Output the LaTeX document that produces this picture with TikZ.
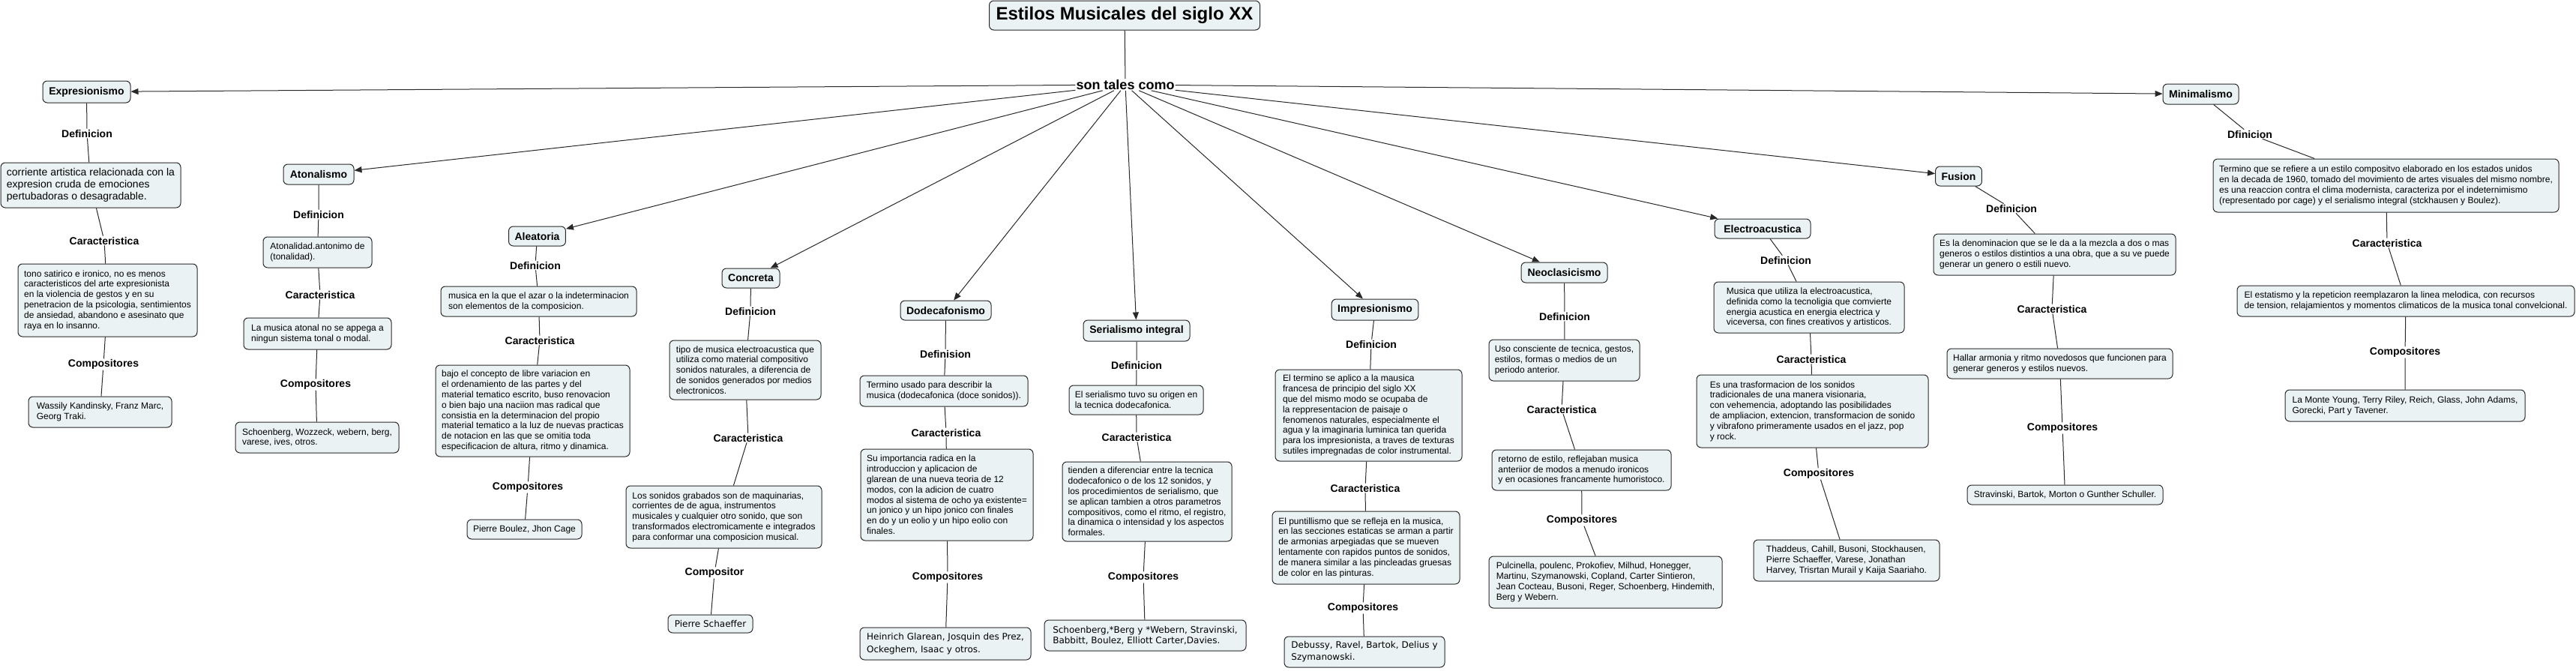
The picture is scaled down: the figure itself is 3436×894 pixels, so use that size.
\documentclass[tikz,border=0pt]{standalone}
\usepackage{fontspec}
\setmainfont{Liberation Sans}
\newfontfamily\verd{DejaVu Sans}
\usetikzlibrary{arrows.meta}
\definecolor{boxfill}{RGB}{235,242,244}
\definecolor{linec}{RGB}{40,40,40}
\tikzset{
  concept/.style={draw=linec, line width=1pt, fill=boxfill, rounded corners=6pt, font=\bfseries\fontsize{14}{16}\selectfont, minimum height=27pt, inner xsep=8pt, inner ysep=0pt, align=center},
  info/.style={draw=linec, line width=1pt, fill=boxfill, rounded corners=6pt, font=\fontsize{12}{13.8}\selectfont, align=left, inner sep=0pt},
  verd/.style={info, font=\verd\fontsize{12}{15}\selectfont},
  lab/.style={font=\bfseries\fontsize{14}{16}\selectfont, inner sep=1pt},
  link/.style={draw=linec, line width=1pt},
  arr/.style={link, -{Triangle[length=10pt,width=8pt]}},
}
\begin{document}
\begin{tikzpicture}[x=1pt,y=-1pt]
\useasboundingbox[fill=white] (0,0) rectangle (3436,894);

% title
\node[concept, font=\bfseries\fontsize{24}{26}\selectfont, minimum width=361pt, minimum height=39pt] (title) at (1500,20.5) {Estilos Musicales del siglo XX};
\node[font=\bfseries\fontsize{18}{20}\selectfont, inner sep=1pt] (son) at (1501,113) {son tales como};

% concepts
\node[concept, minimum width=117pt, minimum height=29pt] (expr) at (115.5,122.5) {Expresionismo};
\node[concept, minimum width=94pt] (aton) at (425,232.5) {Atonalismo};
\node[concept, minimum width=75pt, minimum height=26pt] (alea) at (716.5,315) {Aleatoria};
\node[concept, minimum width=77pt, minimum height=26pt] (conc) at (1001.5,371) {Concreta};
\node[concept, minimum width=121pt, minimum height=26pt] (dode) at (1261.5,414) {Dodecafonismo};
\node[concept, minimum width=142pt, minimum height=28pt] (seri) at (1516,441) {Serialismo integral};
\node[concept, minimum width=114pt, minimum height=28pt] (impr) at (1834,413) {Impresionismo};
\node[concept, minimum width=115pt] (neoc) at (2086.5,363.5) {Neoclasicismo};
\node[concept, minimum width=128pt, minimum height=26pt] (elec) at (2351,305) {Electroacustica};
\node[concept, minimum width=61pt, minimum height=26pt] (fusi) at (2612.5,235) {Fusion};
\node[concept, minimum width=101pt] (mini) at (2935.5,125.5) {Minimalismo};

% Expresionismo
\node[info, font=\fontsize{14}{16.2}\selectfont, minimum width=240pt, minimum height=60pt] (exprdef) at (121,247) {corriente artistica relacionada con la\\expresion cruda de emociones\\pertubadoras o desagradable.};
\node[info, minimum width=239pt, minimum height=97pt] (exprcar) at (143.5,400.5) {tono satirico e ironico, no es menos\\caracteristicos del arte expresionista\\en la violencia de gestos y en su\\penetracion de la psicologia, sentimientos\\de ansiedad, abandono e asesinato que\\raya en lo insanno.};
\node[info, minimum width=191pt, minimum height=41pt] (exprcom) at (133.5,549.5) {Wassily Kandinsky, Franz Marc,\\Georg Traki.};
\node[lab] (exprl1) at (116,178) {Definicion};
\node[lab] (exprl2) at (139,321) {Caracteristica};
\node[lab] (exprl3) at (138,486) {Compositores};

% Atonalismo
\node[info, minimum width=145pt, minimum height=41pt] (atondef) at (423.5,336.5) {Atonalidad.antonimo de\\(tonalidad).};
\node[info, minimum width=197pt, minimum height=42pt] (atoncar) at (423.5,445) {La musica atonal no se appega a\\ningun sistema tonal o modal.};
\node[info, minimum width=218pt, minimum height=41pt] (atoncom) at (423,583.5) {Schoenberg, Wozzeck, webern, berg,\\varese, ives, otros.};
\node[lab] (atonl1) at (425,286) {Definicion};
\node[lab] (atonl2) at (427,393) {Caracteristica};
\node[lab] (atonl3) at (421,513) {Compositores};

% Aleatoria
\node[info, minimum width=261pt, minimum height=40pt] (aleadef) at (718.5,402) {musica en la que el azar o la indeterminacion\\son elementos de la composicion.};
\node[info, minimum width=259pt, minimum height=122pt] (aleacar) at (710.5,548) {bajo el concepto de libre variacion en\\el ordenamiento de las partes y del\\material tematico escrito, buso renovacion\\o bien bajo una naciion mas radical que\\consistia en la determinacion del propio\\material tematico a la luz de nuevas practicas\\de notacion en las que se omitia toda\\especificacion de altura, ritmo y dinamica.};
\node[info, minimum width=153pt, minimum height=26pt] (aleacom) at (699.5,706) {Pierre Boulez, Jhon Cage};
\node[lab] (alel1) at (714,354) {Definicion};
\node[lab] (alel2) at (720,454) {Caracteristica};
\node[lab] (alel3) at (704,650) {Compositores};

% Concreta
\node[info, minimum width=202pt, minimum height=79pt] (concdef) at (994,493.5) {tipo de musica electroacustica que\\utiliza como material compositivo\\sonidos naturales, a diferencia de\\de sonidos generados por medios\\electronicos.};
\node[info, minimum width=261pt, minimum height=83pt] (conccar) at (965.5,689.5) {Los sonidos grabados son de maquinarias,\\corrientes de de agua, instrumentos\\musicales y cualquier otro sonido, que son\\transformados electromicamente e integrados\\para conformar una composicion musical.};
\node[verd, minimum width=113pt, minimum height=24pt] (conccom) at (947.5,832) {Pierre Schaeffer};
\node[lab] (concl1) at (1001,415) {Definicion};
\node[lab] (concl2) at (998,584) {Caracteristica};
\node[lab] (concl3) at (953,764) {Compositor};

% Dodecafonismo
\node[info, minimum width=224pt, minimum height=41pt] (dodedef) at (1259,521.5) {Termino usado para describir la\\musica (dodecafonica (doce sonidos)).};
\node[info, minimum width=230pt, minimum height=122pt] (dodecar) at (1263,660) {Su importancia radica en la\\introduccion y aplicacion de\\glarean de una nueva teoria de 12\\modos, con la adicion de cuatro\\modos al sistema de ocho ya existente=\\un jonico y un hipo jonico con finales\\en do y un eolio y un hipo eolio con\\finales.};
\node[verd, font=\verd\fontsize{12}{16.5}\selectfont, minimum width=228pt, minimum height=43pt] (dodecom) at (1261,858.5) {Heinrich Glarean, Josquin des Prez,\\Ockeghem, Isaac y otros.};
\node[lab] (dodel1) at (1261,472) {Definision};
\node[lab] (dodel2) at (1262,577) {Caracteristica};
\node[lab] (dodel3) at (1264,770) {Compositores};

% Serialismo integral
\node[info, minimum width=179pt, minimum height=39pt] (seridef) at (1515.5,533.5) {El serialismo tuvo su origen en\\la tecnica dodecafonica.};
\node[info, minimum width=226pt, minimum height=106pt] (sericar) at (1530,669) {tienden a diferenciar entre la tecnica\\dodecafonico o de los 12 sonidos, y\\los procedimientos de serialismo, que\\se aplican tambien a otros parametros\\compositivos, como el ritmo, el registro,\\la dinamica o intensidad y los aspectos\\formales.};
\node[verd, font=\verd\fontsize{12}{14.3}\selectfont, minimum width=269pt, minimum height=41pt] (sericom) at (1527.5,847.5) {Schoenberg,*Berg y *Webern, Stravinski,\\Babbitt, Boulez, Elliott Carter,Davies.};
\node[lab] (seril1) at (1516,487) {Definicion};
\node[lab] (seril2) at (1516,583) {Caracteristica};
\node[lab] (seril3) at (1525,770) {Compositores};

% Impresionismo
\node[info, minimum width=249pt, minimum height=122pt] (imprdef) at (1825.5,554) {El termino se aplico a la mausica\\francesa de principio del siglo XX\\que del mismo modo se ocupaba de\\la reppresentacion de paisaje o\\fenomenos naturales, especialmente el\\agua y la imaginaria luminica tan querida\\para los impresionista, a traves de texturas\\sutiles impregnadas de color instrumental.};
\node[info, minimum width=250pt, minimum height=97pt] (imprcar) at (1822,730.5) {El puntillismo que se refleja en la musica,\\en las secciones estaticas se arman a partir\\de armonias arpegiadas que se mueven\\lentamente con rapidos puntos de sonidos,\\de manera similar a las pincleadas gruesas\\de color en las pinturas.};
\node[verd, font=\verd\fontsize{12}{16}\selectfont, minimum width=214pt, minimum height=41pt] (imprcom) at (1820,869.5) {Debussy, Ravel, Bartok, Delius y\\Szymanowski.};
\node[lab] (imprl1) at (1829,459) {Definicion};
\node[lab] (imprl2) at (1821,651) {Caracteristica};
\node[lab] (imprl3) at (1818,811) {Compositores};

% Neoclasicismo
\node[info, minimum width=201pt, minimum height=55pt] (neocdef) at (2086.5,480.5) {Uso consciente de tecnica, gestos,\\estilos, formas o medios de un\\periodo anterior.};
\node[info, minimum width=239pt, minimum height=54pt] (neoccar) at (2109.5,627) {retorno de estilo, reflejaban musica\\anteriior de modos a menudo ironicos\\y en ocasiones francamente humoristoco.};
\node[info, minimum width=311pt, minimum height=69pt] (neoccom) at (2141.5,776.5) {Pulcinella, poulenc, Prokofiev, Milhud, Honegger,\\Martinu, Szymanowski, Copland, Carter Sintieron,\\Jean Cocteau, Busoni, Reger, Schoenberg, Hindemith,\\Berg y Webern.};
\node[lab] (neocl1) at (2087,422) {Definicion};
\node[lab] (neocl2) at (2083,546) {Caracteristica};
\node[lab] (neocl3) at (2110,694) {Compositores};

% Electroacustica
\node[info, minimum width=254pt, minimum height=68pt] (elecdef) at (2413,410) {Musica que utiliza la electroacustica,\\definida como la tecnoligia que comvierte\\energia acustica en energia electrica y\\viceversa, con fines creativos y artisticos.};
\node[info, minimum width=309pt, minimum height=97pt] (eleccar) at (2417.5,548.5) {Es una trasformacion de los sonidos\\tradicionales de una manera visionaria,\\con vehemencia, adoptando las posibilidades\\de ampliacion, extencion, transformacion de sonido\\y vibrafono primeramente usados en el jazz, pop\\y rock.};
\node[info, minimum width=248pt, minimum height=55pt] (eleccom) at (2463,747.5) {Thaddeus, Cahill, Busoni, Stockhausen,\\Pierre Schaeffer, Varese, Jonathan\\Harvey, Trisrtan Murail y Kaija Saariaho.};
\node[lab] (elecl1) at (2382,347) {Definicion};
\node[lab] (elecl2) at (2416,479) {Caracteristica};
\node[lab] (elecl3) at (2426,632) {Compositores};

% Fusion
\node[info, minimum width=323pt, minimum height=55pt] (fusidef) at (2740.5,339.5) {Es la denominacion que se le da a la mezcla a dos o mas\\generos o estilos distintios a una obra, que a su ve puede\\generar un genero o estili nuevo.};
\node[info, minimum width=301pt, minimum height=40pt] (fusicar) at (2747.5,485) {Hallar armonia y ritmo novedosos que funcionen para\\generar generos y estilos nuevos.};
\node[info, minimum width=261pt, minimum height=26pt] (fusicom) at (2754.5,660) {Stravinski, Bartok, Morton o Gunther Schuller.};
\node[lab] (fusil1) at (2683,278) {Definicion};
\node[lab] (fusil2) at (2737,412) {Caracteristica};
\node[lab] (fusil3) at (2751,571) {Compositores};

% Minimalismo
\node[info, minimum width=461pt, minimum height=71pt] (minidef) at (3182.5,247.5) {Termino que se refiere a un estilo compositvo elaborado en los estados unidos\\en la decada de 1960, tomado del movimiento de artes visuales del mismo nombre,\\es una reaccion contra el clima modernista, caracteriza por el indeternimismo\\(representado por cage) y el serialismo integral (stckhausen y Boulez).};
\node[info, minimum width=450pt, minimum height=41pt] (minicar) at (3209,401.5) {El estatismo y la repeticion reemplazaron la linea melodica, con recursos\\de tension, relajamientos y momentos climaticos de la musica tonal convelcional.};
\node[info, minimum width=320pt, minimum height=42pt] (minicom) at (3208,541) {La Monte Young, Terry Riley, Reich, Glass, John Adams,\\Gorecki, Part y Tavener.};
\node[lab] (minil1) at (3001,179) {Dfinicion};
\node[lab] (minil2) at (3184,324) {Caracteristica};
\node[lab] (minil3) at (3208,470) {Compositores};

% connectors
\draw[link] (title) -- (son);
\foreach \c in {expr,aton,alea,conc,dode,seri,impr,neoc,elec,fusi,mini}
  \draw[arr] (son) -- (\c);

\draw[link] (expr) -- (exprl1) -- (exprdef) -- (exprl2) -- (exprcar) -- (exprl3) -- (exprcom);
\draw[link] (aton) -- (atonl1) -- (atondef) -- (atonl2) -- (atoncar) -- (atonl3) -- (atoncom);
\draw[link] (alea) -- (alel1) -- (aleadef) -- (alel2) -- (aleacar) -- (alel3) -- (aleacom);
\draw[link] (conc) -- (concl1) -- (concdef) -- (concl2) -- (conccar) -- (concl3) -- (conccom);
\draw[link] (dode) -- (dodel1) -- (dodedef) -- (dodel2) -- (dodecar) -- (dodel3) -- (dodecom);
\draw[link] (seri) -- (seril1) -- (seridef) -- (seril2) -- (sericar) -- (seril3) -- (sericom);
\draw[link] (impr) -- (imprl1) -- (imprdef) -- (imprl2) -- (imprcar) -- (imprl3) -- (imprcom);
\draw[link] (neoc) -- (neocl1) -- (neocdef) -- (neocl2) -- (neoccar) -- (neocl3) -- (neoccom);
\draw[link] (elec) -- (elecl1) -- (elecdef) -- (elecl2) -- (eleccar) -- (elecl3) -- (eleccom);
\draw[link] (fusi) -- (fusil1) -- (fusidef) -- (fusil2) -- (fusicar) -- (fusil3) -- (fusicom);
\draw[link] (mini) -- (minil1) -- (minidef) -- (minil2) -- (minicar) -- (minil3) -- (minicom);
\end{tikzpicture}
\end{document}
